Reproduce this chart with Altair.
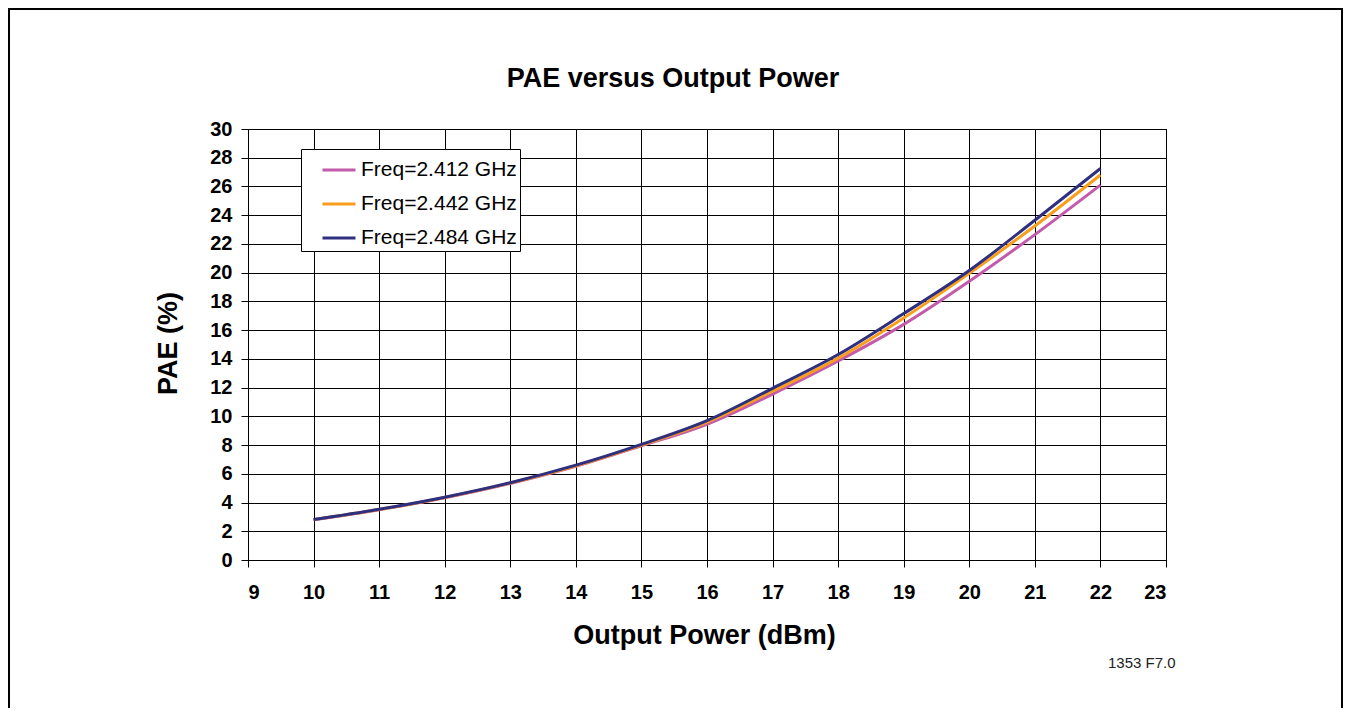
import altair as alt
import pandas as pd

power = [10, 11, 12, 13, 14, 15, 16, 17, 18, 19, 20, 21, 22]
pae_2412 = [2.80, 3.50, 4.33, 5.33, 6.52, 7.95, 9.45, 11.55, 13.85, 16.40, 19.40, 22.65, 26.10]
pae_2442 = [2.81, 3.51, 4.35, 5.36, 6.56, 8.00, 9.60, 11.75, 14.05, 16.85, 19.95, 23.25, 26.80]
pae_2484 = [2.82, 3.53, 4.37, 5.38, 6.60, 8.05, 9.70, 11.95, 14.30, 17.15, 20.15, 23.65, 27.25]
series_names = ["Freq=2.412 GHz", "Freq=2.442 GHz", "Freq=2.484 GHz"]
series_colors = ["#C45BAA", "#F99D1C", "#2E2F7F"]
x_ticks = list(range(9, 24))
y_ticks = list(range(0, 31, 2))

rows = []
for name, vals in zip(series_names, [pae_2412, pae_2442, pae_2484]):
    for p, v in zip(power, vals):
        rows.append({"power": p, "pae": v, "series": name})
df = pd.DataFrame(rows)

FONT = "Liberation Sans"
PW, PH = 918, 431

lines = alt.Chart(df).mark_line(strokeWidth=3, interpolate="monotone").encode(
    x=alt.X("power:Q", scale=alt.Scale(domain=[9, 23], nice=False),
            axis=alt.Axis(values=x_ticks, title="Output Power (dBm)", format="d",
                          titleX=456, titleY=83, titleBaseline="alphabetic",
                          titleAnchor="start", titleAlign="center")),
    y=alt.Y("pae:Q", scale=alt.Scale(domain=[0, 30], nice=False),
            axis=alt.Axis(values=y_ticks, title="PAE (%)", format="d",
                          titleX=-72, titleY=214, titleBaseline="alphabetic",
                          titleAngle=-90, titleAlign="center", titleAnchor="start")),
    color=alt.Color("series:N", scale=alt.Scale(domain=series_names, range=series_colors),
                    legend=alt.Legend(title=None, orient="none", legendX=53, legendY=20,
                                      symbolType="stroke", symbolSize=1089, symbolStrokeWidth=3,
                                      labelFontSize=21, labelFont=FONT, labelColor="black",
                                      labelFontWeight="normal", labelLimit=400, labelOffset=4,
                                      fillColor="white", strokeColor="black", padding=3,
                                      symbolOffset=17, rowPadding=6, cornerRadius=0)),
)

one = pd.DataFrame({"k": [0]})
frame_top = alt.Chart(one).mark_rule(color="black", strokeWidth=2).encode(
    x=alt.value(-240), x2=alt.value(1095), y=alt.value(-120))
frame_left = alt.Chart(one).mark_rule(color="black", strokeWidth=2).encode(
    x=alt.value(-239), y=alt.value(-121), y2=alt.value(600))
frame_right = alt.Chart(one).mark_rule(color="black", strokeWidth=2).encode(
    x=alt.value(1094), y=alt.value(-121), y2=alt.value(600))
note = alt.Chart(one).mark_text(font=FONT, fontSize=15, color="#222222", align="left",
                                baseline="middle").encode(
    x=alt.value(860), y=alt.value(534), text=alt.value("1353 F7.0"))

chart = alt.layer(lines, frame_top, frame_left, frame_right, note).properties(
    width=PW, height=PH,
    autosize=alt.AutoSizeParams(type="none"),
    padding={"left": 240, "top": 121, "right": 177, "bottom": 148},
    title=alt.TitleParams("PAE versus Output Power", font=FONT, fontSize=27, fontWeight="bold",
                          color="black", anchor="middle", frame="group", dx=-34, offset=-107,
                          baseline="alphabetic"),
).configure_view(stroke="black", strokeWidth=1).configure_axis(
    grid=True, gridColor="black", gridWidth=1, gridOpacity=1,
    domainColor="black", domainWidth=1, tickColor="black", tickSize=7, tickWidth=1,
    labelFont=FONT, labelFontSize=20, labelFontWeight="bold", labelColor="black",
    titleFont=FONT, titleFontSize=27, titleFontWeight="bold", titleColor="black",
).configure_axisX(labelPadding=15).configure_axisY(labelPadding=9)

chart.save("out.html", embed_options={"renderer": "svg", "actions": False})
